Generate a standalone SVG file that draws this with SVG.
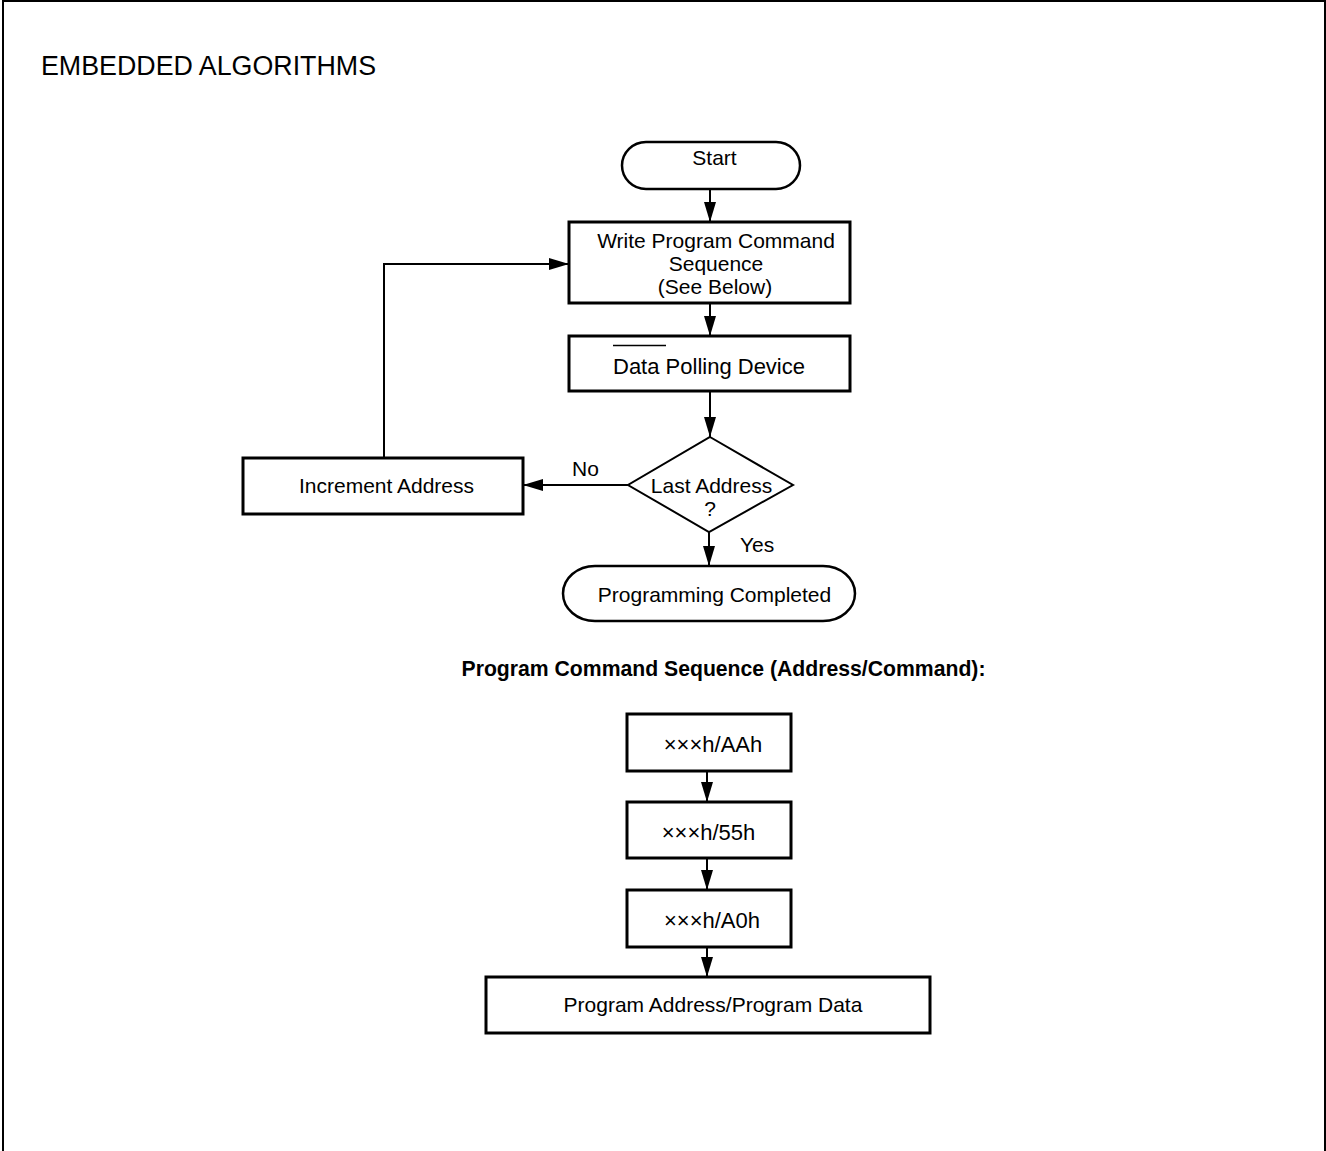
<svg xmlns="http://www.w3.org/2000/svg" width="1326" height="1151" viewBox="0 0 1326 1151">
  <style>
    text { font-family: "Liberation Sans", Arial, Helvetica, sans-serif; fill: #000; }
    .lbl { font-size: 21px; }
    .mid { text-anchor: middle; }
    .box { fill: #fff; stroke: #000; stroke-width: 3; }
    .term { fill: #fff; stroke: #000; stroke-width: 2.5; }
    .dia { fill: #fff; stroke: #000; stroke-width: 2; }
    .conn { fill: none; stroke: #000; stroke-width: 2; marker-end: url(#ah); }
  </style>
  <defs>
    <marker id="ah" markerWidth="20" markerHeight="12" refX="20" refY="6" orient="auto" markerUnits="userSpaceOnUse">
      <path d="M0,0 L20,6 L0,12 z" fill="#000"/>
    </marker>
  </defs>
  <rect x="0" y="0" width="1326" height="1151" fill="#fff"/>
  <path d="M3,1151 V1 H1325 V1151" fill="none" stroke="#000" stroke-width="2"/>
  <text x="41" y="75" font-size="26.8">EMBEDDED ALGORITHMS</text>

  <g id="connectors">
    <line class="conn" x1="710" y1="189" x2="710" y2="222"/>
    <line class="conn" x1="710" y1="303" x2="710" y2="336"/>
    <line class="conn" x1="710" y1="391" x2="710" y2="437"/>
    <line class="conn" x1="709" y1="532" x2="709" y2="566"/>
    <line class="conn" x1="628" y1="485" x2="523" y2="485"/>
    <polyline class="conn" points="384,458 384,264 569,264"/>
    <line class="conn" x1="707" y1="771" x2="707" y2="802"/>
    <line class="conn" x1="707" y1="858" x2="707" y2="890"/>
    <line class="conn" x1="707" y1="947" x2="707" y2="977"/>
    <text class="lbl" x="572" y="476">No</text>
    <text class="lbl" x="740" y="552">Yes</text>
  </g>

  <g id="start">
    <path class="term" d="M646,142 H776 A24,23.5 0 0 1 776,189 H646 A24,23.5 0 0 1 646,142 Z"/>
    <text class="lbl mid" x="714.5" y="165">Start</text>
  </g>

  <g id="write-cmd">
    <rect class="box" x="569" y="222" width="281" height="81"/>
    <text class="lbl mid" x="716" y="248">Write Program Command</text>
    <text class="lbl mid" x="716" y="271">Sequence</text>
    <text class="lbl mid" x="715" y="294">(See Below)</text>
  </g>

  <g id="data-polling">
    <rect class="box" x="569" y="336" width="281" height="55"/>
    <text x="613" y="374" font-size="22">Data Polling Device</text>
    <line x1="613" y1="345.5" x2="666" y2="345.5" stroke="#000" stroke-width="1.5"/>
  </g>

  <g id="last-address">
    <polygon class="dia" points="710,437 793,485 709,532 628,485"/>
    <text class="lbl mid" x="711.5" y="493">Last Address</text>
    <text class="lbl mid" x="710" y="516">?</text>
  </g>

  <g id="increment">
    <rect class="box" x="243" y="458" width="280" height="56"/>
    <text class="lbl mid" x="386.5" y="493">Increment Address</text>
  </g>

  <g id="completed">
    <path class="term" d="M595,566 H823 A32,27.5 0 0 1 823,621 H595 A32,27.5 0 0 1 595,566 Z"/>
    <text class="lbl mid" x="714.5" y="602">Programming Completed</text>
  </g>

  <text class="mid" x="723.5" y="676" font-size="21.2" font-weight="bold">Program Command Sequence (Address/Command):</text>

  <g id="seq-aa">
    <rect class="box" x="627" y="714" width="164" height="57"/>
    <text class="mid" x="713" y="752" font-size="22">×××h/AAh</text>
  </g>
  <g id="seq-55">
    <rect class="box" x="627" y="802" width="164" height="56"/>
    <text class="mid" x="708.5" y="840" font-size="22">×××h/55h</text>
  </g>
  <g id="seq-a0">
    <rect class="box" x="627" y="890" width="164" height="57"/>
    <text class="mid" x="712" y="928" font-size="22">×××h/A0h</text>
  </g>
  <g id="prog-data">
    <rect class="box" x="486" y="977" width="444" height="56"/>
    <text class="lbl mid" x="713" y="1012">Program Address/Program Data</text>
  </g>
</svg>
